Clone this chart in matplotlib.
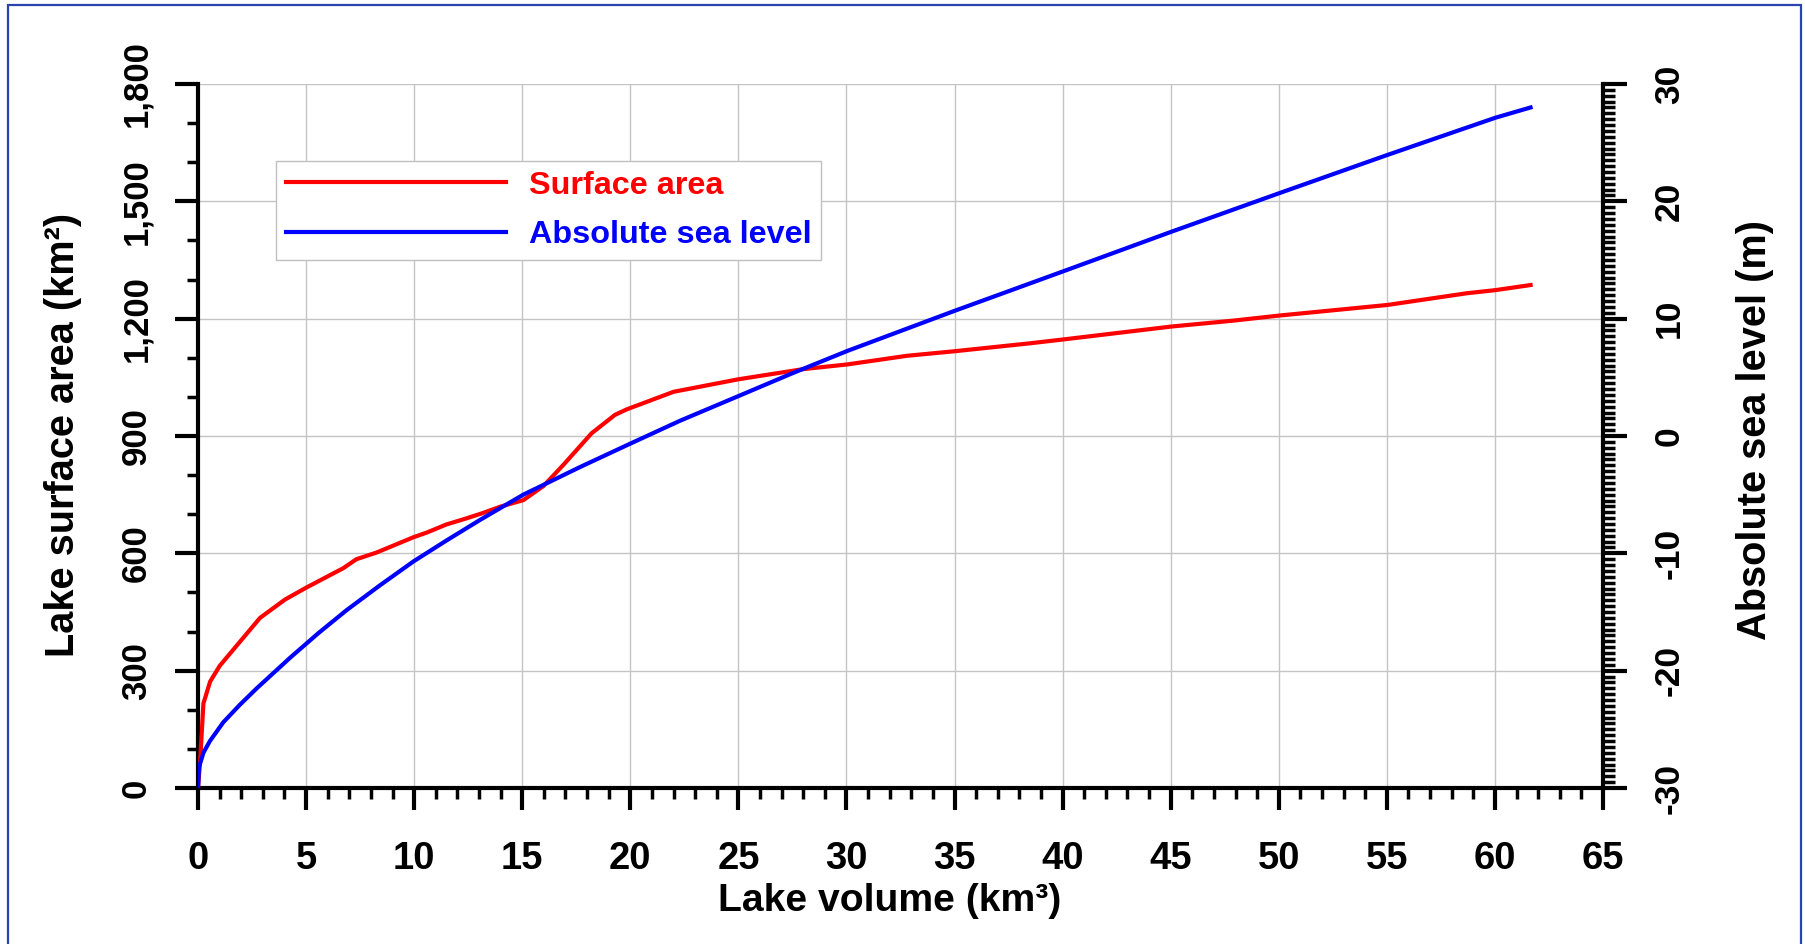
import matplotlib
matplotlib.use("Agg")
import matplotlib.pyplot as plt
from matplotlib.ticker import MultipleLocator, FuncFormatter
from matplotlib.patches import Rectangle

# ---- data ----
area_volume = [0.0, 0.1, 0.25, 0.56, 1.0, 1.5, 2.87, 4.03, 5.03, 6.72, 7.33, 8.26,
               9.96, 10.58, 11.5, 12.28, 13.12, 13.97, 15.05, 15.98, 16.9, 18.21,
               19.29, 19.83, 22.0, 25.0, 28.0, 30.04, 32.79, 35.05, 38.49, 40.05,
               45.05, 47.9, 50.03, 55.02, 58.7, 60.03, 61.65]
surface_area = [0, 70, 216, 272, 312, 345, 435, 482, 513, 562, 585, 602,
                641, 653, 674, 687, 702, 719, 736, 772, 826, 907,
                954, 968, 1013, 1045, 1071, 1083, 1105, 1117, 1137, 1147,
                1180, 1195, 1208, 1235, 1265, 1273, 1286]

level_volume = [0.0, 0.05, 0.25, 0.55, 1.17, 1.94, 2.72, 4.26, 5.57, 6.87, 8.4,
                9.96, 11.5, 13.05, 15.05, 17.67, 20.0, 22.3, 25.0, 27.5, 30.04,
                35.05, 40.05, 45.05, 50.03, 55.02, 60.03, 61.65]
sea_level = [-30.0, -28.2, -27.0, -26.0, -24.4, -22.9, -21.5, -18.9, -16.8, -14.85,
             -12.75, -10.7, -8.9, -7.15, -5.0, -2.65, -0.65, 1.3, 3.4, 5.35, 7.25,
             10.7, 14.05, 17.42, 20.7, 23.95, 27.13, 28.0]

x_label = "Lake volume (km³)"
y_label = "Lake surface area (km²)"
y2_label = "Absolute sea level (m)"
series_names = ["Surface area", "Absolute sea level"]

FONT = "Liberation Sans"
plt.rcParams["font.family"] = [FONT, "DejaVu Sans"]
plt.rcParams["font.weight"] = "bold"
plt.rcParams["axes.unicode_minus"] = False

W, H = 1806, 944
fig = plt.figure(figsize=(W / 100, H / 100), dpi=100)
L, R, T, B = 198, 1603, 84, 788
ax = fig.add_axes([L / W, (H - B) / H, (R - L) / W, (B - T) / H])
ax2 = ax.twinx()

# blue frame around the figure (bottom edge lies outside the picture)
fig.patches.append(Rectangle((7.5 / W, -10 / H), (1801 - 7.5) / W, (939 + 10) / H,
                             transform=fig.transFigure, fill=False,
                             edgecolor="#2b43ad", linewidth=1.6, zorder=0))

red_line, = ax.plot(area_volume, surface_area, color="#ff0000", lw=3.0,
                    solid_joinstyle="round", zorder=3, label=series_names[0])
blue_line, = ax2.plot(level_volume, sea_level, color="#0000ff", lw=3.0,
                      solid_joinstyle="round", zorder=3, label=series_names[1])

ax.set_xlim(0, 65)
ax.set_ylim(0, 1800)
ax2.set_ylim(-30, 30)

ax.xaxis.set_major_locator(MultipleLocator(5))
ax.xaxis.set_minor_locator(MultipleLocator(1))
ax.yaxis.set_major_locator(MultipleLocator(300))
ax.yaxis.set_minor_locator(MultipleLocator(100))
ax.yaxis.set_major_formatter(FuncFormatter(lambda v, p: f"{v:,.0f}"))
ax2.yaxis.set_major_locator(MultipleLocator(10))
ax2.yaxis.set_minor_locator(MultipleLocator(0.5))
ax2.yaxis.set_major_formatter(FuncFormatter(lambda v, p: f"{v:.0f}"))

ax.grid(True, which="major", color="#c4c4c4", lw=1.0)
ax.set_axisbelow(True)

for a in (ax, ax2):
    for s in a.spines.values():
        s.set_visible(False)
ax.spines["left"].set_visible(True)
ax.spines["bottom"].set_visible(True)
ax2.spines["right"].set_visible(True)
for s in (ax.spines["left"], ax.spines["bottom"], ax2.spines["right"]):
    s.set_linewidth(3.0)
    s.set_color("black")
    s.set_capstyle("projecting")

ax.tick_params(axis="x", which="major", direction="out", length=16, width=3,
               pad=22, labelsize=27.5, top=False)
ax.tick_params(axis="x", which="minor", direction="out", length=8, width=2.5, top=False)
ax.tick_params(axis="y", which="major", direction="out", length=16.5, width=3,
               pad=16, labelsize=25, right=False, labelrotation=90)
ax.tick_params(axis="y", which="minor", direction="out", length=8, width=2.5, right=False)
ax2.tick_params(axis="y", which="major", direction="out", length=17, width=3,
                pad=19, labelsize=25.5, left=False, labelrotation=90)
ax2.tick_params(axis="y", which="minor", direction="out", length=8.5, width=2.5, left=False)

for lab in ax.get_yticklabels() + ax2.get_yticklabels():
    lab.set_va("center")
for lab in ax.get_xticklabels() + ax.get_yticklabels() + ax2.get_yticklabels():
    lab.set_fontweight("bold")

ax.set_xlabel(x_label, fontsize=28.2, fontweight="bold", va="center")
ax.xaxis.set_label_coords(0.492, -0.161)
ax.set_ylabel(y_label, fontsize=28.6, fontweight="bold", va="center")
ax.yaxis.set_label_coords(-0.096, 0.501)
ax2.set_ylabel(y2_label, fontsize=28.6, fontweight="bold", va="center",
               rotation=90)
ax2.yaxis.set_label_coords(1.1085, 0.508)

leg = ax2.legend(handles=[red_line, blue_line], loc="upper left",
                 bbox_to_anchor=(276 / W, 1 - 161 / H), bbox_transform=fig.transFigure,
                 borderaxespad=0, frameon=True, fancybox=False,
                 edgecolor="#c0c0c0", framealpha=1, handlelength=6.8,
                 handletextpad=0.72, labelspacing=0.6, borderpad=0.3,
                 prop={"family": FONT, "weight": "bold", "size": 23.3})
leg.get_frame().set_linewidth(1.0)
for txt, ln in zip(leg.get_texts(), leg.get_lines()):
    txt.set_color(ln.get_color())

fig.savefig("out.png", dpi=100)
